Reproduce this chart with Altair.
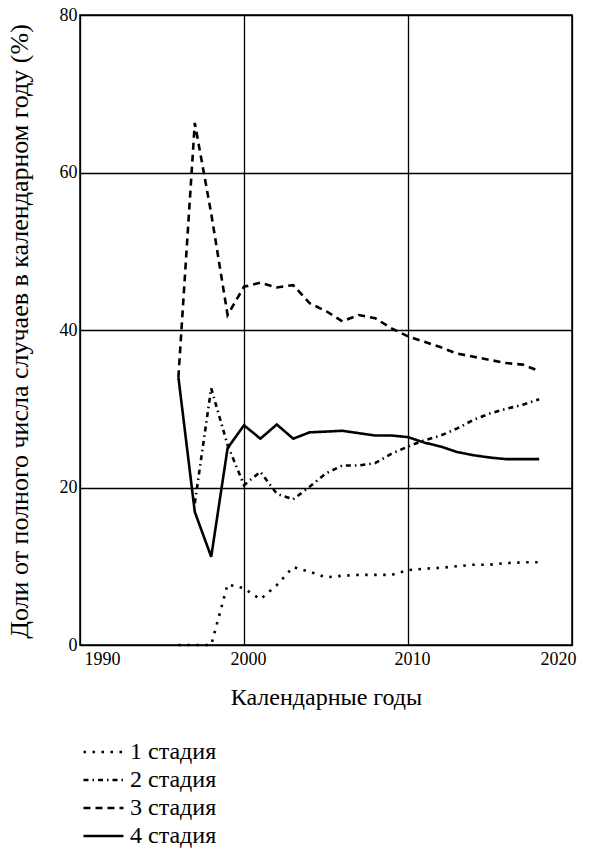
import altair as alt
import pandas as pd

# Calendar years covered by the series
years = list(range(1996, 2019))

# Share of each stage among all cases of the year, %
stage1 = [0, 0, 0, 7.7, 7.2, 5.8, 7.6, 9.9, 9.3, 8.6, 8.8, 8.9, 8.9, 8.9,
          9.5, 9.7, 9.8, 10.0, 10.2, 10.2, 10.4, 10.5, 10.5]
stage2 = [None, 18.0, 32.6, 25.4, 20.3, 22.0, 19.2, 18.5, 20.1, 21.8, 22.8, 22.8,
          23.1, 24.3, 25.2, 26.0, 26.6, 27.5, 28.6, 29.4, 30.0, 30.5, 31.2]
stage3 = [34.0, 66.3, 54.8, 41.9, 45.5, 46.0, 45.4, 45.7, 43.4, 42.4, 41.1, 41.9,
          41.5, 40.2, 39.2, 38.5, 37.8, 37.0, 36.6, 36.2, 35.8, 35.6, 34.8]
stage4 = [34.0, 16.9, 11.2, 25.0, 27.9, 26.2, 28.0, 26.2, 27.0, 27.1, 27.2, 26.9,
          26.6, 26.6, 26.4, 25.7, 25.2, 24.5, 24.1, 23.8, 23.6, 23.6, 23.6]

stage_names = ["1 стадия", "2 стадия", "3 стадия", "4 стадия"]
x_ticks = [1990, 2000, 2010, 2020]
y_ticks = [0, 20, 40, 60, 80]

rows = []
for name, values in zip(stage_names, [stage1, stage2, stage3, stage4]):
    for yr, v in zip(years, values):
        if v is not None:
            rows.append({"year": yr, "share": v, "stage": name})
df = pd.DataFrame(rows)

FONT = "Liberation Serif"

chart = (
    alt.Chart(df)
    .mark_line(color="black", strokeWidth=2.6)
    .encode(
        x=alt.X(
            "year:Q",
            scale=alt.Scale(domain=[1990, 2020], nice=False, zero=False),
            axis=alt.Axis(
                values=x_ticks,
                format="d",
                title="Календарные годы",
                labelFont=FONT,
                labelFontSize=18,
                labelPadding=5,
                labelOffset=4,
                titleFont=FONT,
                titleFontSize=24,
                titleFontWeight="normal",
                titleBaseline="middle",
                titleY=52,
            ),
        ),
        y=alt.Y(
            "share:Q",
            scale=alt.Scale(domain=[0, 80], nice=False),
            axis=alt.Axis(
                values=y_ticks,
                title="Доли от  полного числа случаев в календарном году  (%)",
                labelFont=FONT,
                labelFontSize=18,
                labelPadding=3,
                titleFont=FONT,
                titleFontSize=26,
                titleFontWeight="normal",
                titleX=-61,
                titleY=316,
                titleAlign="center",
                titleBaseline="middle",
            ),
        ),
        strokeDash=alt.StrokeDash(
            "stage:N",
            scale=alt.Scale(
                domain=stage_names,
                range=[[2.5, 6.5], [5, 4, 1.5, 4], [7, 5], [1, 0]],
            ),
            legend=alt.Legend(
                title=None,
                orient="none",
                legendX=2,
                legendY=727,
                symbolType="stroke",
                symbolSize=1600,
                symbolStrokeWidth=2.6,
                symbolStrokeColor="black",
                clipHeight=20,
                labelFontSize=24,
                labelFont=FONT,
                labelColor="black",
                labelOffset=5,
                rowPadding=4,
            ),
        ),
        detail="stage:N",
    )
    .properties(
        width=492,
        height=630,
        background="white",
        autosize=alt.AutoSizeParams(type="none"),
        padding={"left": 80, "top": 15, "right": 24, "bottom": 207},
    )
    .configure_view(stroke="black", strokeWidth=1.5)
    .configure_axis(
        grid=True,
        gridColor="black",
        gridWidth=1.3,
        gridOpacity=1,
        domain=False,
        ticks=False,
        labelFont=FONT,
        titleFont=FONT,
        labelColor="black",
        titleColor="black",
    )
)

chart.save("out.html", embed_options={"renderer": "svg", "actions": False})
